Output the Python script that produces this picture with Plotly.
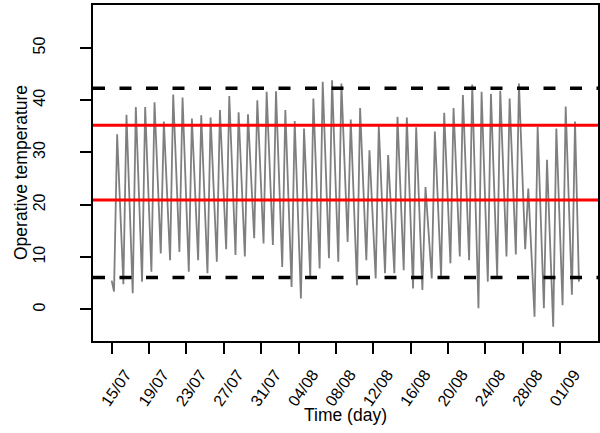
import pandas as pd
import plotly.graph_objects as go

# ---------------- data ----------------
days = pd.date_range("2019-07-15", "2019-09-02", freq="D")  # 50 days

daily_min = [3.4, 4.8, 3.1, 5.3, 7.2, 10.7, 9.4, 11.0, 7.2, 9.4,
             6.9, 9.1, 11.5, 10.4, 10.1, 13.6, 12.6, 12.3, 8.1, 4.3,
             2.1, 6.2, 7.8, 9.8, 9.1, 12.9, 4.6, 9.4, 5.9, 6.9,
             6.9, 7.5, 4.0, 3.7, 5.9, 6.2, 8.8, 10.1, 9.4, 0.2,
             5.3, 6.4, 10.1, 10.5, 11.5, -1.4, 0.2, -3.3, 0.8, 2.8]

daily_max = [33.5, 37.2, 38.7, 38.7, 39.6, 35.9, 41.1, 40.5, 36.5, 37.1,
             36.7, 38.1, 40.8, 37.7, 37.3, 40.0, 41.6, 41.7, 38.1, 36.0,
             34.6, 40.3, 43.5, 43.8, 43.2, 36.3, 38.5, 30.4, 35.1, 29.5,
             36.8, 36.7, 34.8, 23.4, 34.0, 37.6, 38.5, 41.0, 43.0, 41.6,
             41.2, 41.8, 40.3, 43.2, 23.1, 34.9, 28.6, 34.6, 38.8, 35.9]

start_value = 5.5   # 15/07 00:00
end_value = 5.3     # 03/09 00:00

upper_comfort = 35.2
lower_comfort = 20.9
upper_extreme = 42.3
lower_extreme = 6.1

tick_dates = pd.date_range("2019-07-15", "2019-09-01", freq="4D")
tick_labels = ["15/07", "19/07", "23/07", "27/07", "31/07", "04/08", "08/08",
               "12/08", "16/08", "20/08", "24/08", "28/08", "01/09"]

y_ticks = [0, 10, 20, 30, 40, 50]

# ---------------- build series ----------------
times = [days[0]]
temps = [start_value]
for d, lo, hi in zip(days, daily_min, daily_max):
    times += [d + pd.Timedelta(hours=6), d + pd.Timedelta(hours=14)]
    temps += [lo, hi]
times.append(days[-1] + pd.Timedelta(days=1))
temps.append(end_value)

FONT = "Liberation Sans, Arial, Helvetica, sans-serif"

fig = go.Figure()
fig.add_trace(go.Scatter(x=times, y=temps, mode="lines",
                         line=dict(color="#7f7f7f", width=1.8),
                         showlegend=False, hoverinfo="skip"))

for yv in (upper_extreme, lower_extreme):
    fig.add_hline(y=yv, line=dict(color="black", width=3.5, dash="12px,14.5px"))
for yv in (upper_comfort, lower_comfort):
    fig.add_hline(y=yv, line=dict(color="#ff0000", width=3))

axis_common = dict(showline=True, linecolor="black", linewidth=2, mirror=True,
                   ticks="outside", ticklen=11, tickwidth=2, tickcolor="black",
                   showgrid=False, zeroline=False, automargin=False,
                   tickfont=dict(family=FONT, size=16, color="black"))

fig.update_layout(
    width=600, height=433,
    margin=dict(l=93, r=2, t=5, b=92),
    paper_bgcolor="white", plot_bgcolor="white",
    font=dict(family=FONT, size=17, color="black"),
    xaxis=dict(type="date",
               range=["2019-07-13 00:00", "2019-09-05 01:00"],
               tickmode="array", tickvals=tick_dates, ticktext=tick_labels,
               tickangle=-55, ticklabelshift=14, ticklabelstandoff=5,
               **axis_common),
    yaxis=dict(range=[-6.05, 58.2], tickmode="array", tickvals=y_ticks,
               tickangle=-90, ticklabelstandoff=29,
               **axis_common),
    annotations=[
        dict(text="Time (day)", xref="paper", yref="paper", x=0.5, y=0,
             xanchor="center", yanchor="middle", yshift=-74, showarrow=False,
             font=dict(family=FONT, size=17.5)),
        dict(text="Operative temperature", xref="paper", yref="paper", x=0, y=0.5,
             xanchor="center", yanchor="middle", xshift=-72, textangle=-90,
             showarrow=False, font=dict(family=FONT, size=17.5)),
    ],
)

fig.write_html("out.html", config={"displayModeBar": False},
               post_script="document.body.style.margin='0';")
